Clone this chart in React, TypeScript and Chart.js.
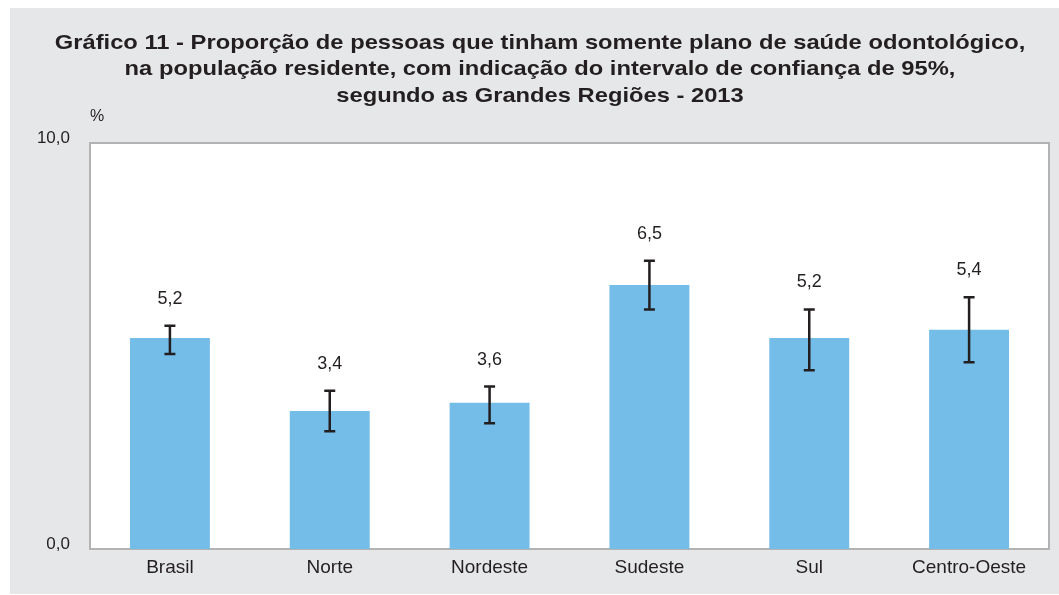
import React, { useEffect, useRef } from "react";
import { Chart, registerables } from "chart.js";

Chart.register(...registerables);

const titleLines = [
  "Gráfico 11 - Proporção de pessoas que tinham somente plano de saúde odontológico,",
  "na população residente, com indicação do intervalo de confiança de 95%,",
  "segundo as Grandes Regiões - 2013",
];
const unitLabel = "%";
const categories = ["Brasil", "Norte", "Nordeste", "Sudeste", "Sul", "Centro-Oeste"];
const values = [5.2, 3.4, 3.6, 6.5, 5.2, 5.4];
const ciLow = [4.8, 2.9, 3.1, 5.9, 4.4, 4.6];
const ciHigh = [5.5, 3.9, 4.0, 7.1, 5.9, 6.2];
const yTicks = [0, 10];

const FONT = "'Liberation Sans', Arial, Helvetica, sans-serif";
const TEXT = "#231f20";
const BG = "#e6e7e8";
const BORDER = "#b3b3b3";

const fmt = (v: number) => v.toFixed(1).replace(".", ",");

const decorPlugin = {
  id: "decor",
  beforeDraw(chart: any) {
    const { ctx, chartArea } = chart;
    ctx.save();
    ctx.fillStyle = "#ffffff";
    ctx.fillRect(0, 0, chart.width, chart.height);
    ctx.fillStyle = BG;
    ctx.fillRect(10, 8, chart.width - 10, chart.height - 9);
    ctx.fillStyle = "#ffffff";
    ctx.fillRect(chartArea.left, chartArea.top, chartArea.right - chartArea.left, chartArea.bottom - chartArea.top);
    // title
    ctx.fillStyle = TEXT;
    ctx.font = `bold 21px ${FONT}`;
    ctx.textAlign = "center";
    ctx.textBaseline = "middle";
    titleLines.forEach((l, i) => {
      ctx.save();
      ctx.translate(540, 43 + i * 26.5);
      ctx.scale(1.13, 1);
      ctx.fillText(l, 0, 0);
      ctx.restore();
    });
    ctx.font = `16px ${FONT}`;
    ctx.textAlign = "left";
    ctx.fillText(unitLabel, 90, 117);
    ctx.restore();
  },
  afterDatasetsDraw(chart: any) {
    const { ctx, chartArea } = chart;
    const x = chart.scales.x;
    const y = chart.scales.y;
    ctx.save();
    // top & right borders
    ctx.strokeStyle = BORDER;
    ctx.lineWidth = 2;
    ctx.beginPath();
    ctx.moveTo(chartArea.left, chartArea.top);
    ctx.lineTo(chartArea.right, chartArea.top);
    ctx.lineTo(chartArea.right, chartArea.bottom);
    ctx.stroke();
    // error bars
    ctx.strokeStyle = TEXT;
    ctx.lineWidth = 2.5;
    categories.forEach((_, i) => {
      const cx = x.getPixelForValue(i);
      const yl = y.getPixelForValue(ciLow[i]);
      const yh = y.getPixelForValue(ciHigh[i]);
      ctx.beginPath();
      ctx.moveTo(cx, yl);
      ctx.lineTo(cx, yh);
      ctx.moveTo(cx - 5.5, yl);
      ctx.lineTo(cx + 5.5, yl);
      ctx.moveTo(cx - 5.5, yh);
      ctx.lineTo(cx + 5.5, yh);
      ctx.stroke();
      ctx.fillStyle = TEXT;
      ctx.font = `18px ${FONT}`;
      ctx.textAlign = "center";
      ctx.textBaseline = "middle";
      ctx.fillText(fmt(values[i]), cx, yh - 27);
    });
    ctx.restore();
  },
};

export default function App() {
  const ref = useRef<HTMLCanvasElement>(null);
  useEffect(() => {
    if (!ref.current) return;
    const chart = new Chart(ref.current, {
      type: "bar",
      data: {
        labels: categories,
        datasets: [
          {
            data: values,
            backgroundColor: "#73bde8",
            borderWidth: 0,
            categoryPercentage: 1,
            barPercentage: 0.5,
          },
        ],
      },
      options: {
        animation: false,
        responsive: false,
        devicePixelRatio: 1,
        layout: { padding: { top: 143, right: 10, left: 0, bottom: 0 } },
        plugins: { legend: { display: false }, tooltip: { enabled: false }, title: { display: false } },
        scales: {
          x: {
            grid: { display: false, drawTicks: false },
            border: { display: true, color: BORDER, width: 2 },
            ticks: { color: TEXT, font: { family: FONT, size: 19 }, padding: 7 },
            afterFit: (s: any) => { s.height = 46; },
          },
          y: {
            min: 0,
            max: 10,
            afterBuildTicks: (s: any) => { s.ticks = yTicks.map((v) => ({ value: v })); },
            grid: { display: false, drawTicks: false },
            border: { display: true, color: BORDER, width: 2 },
            ticks: {
              color: TEXT,
              font: { family: FONT, size: 17 },
              padding: 20,
              labelOffset: -5,
              callback: (v: any) => fmt(Number(v)),
            },
            afterFit: (s: any) => { s.width = 90; },
          },
        },
      },
      plugins: [decorPlugin],
    });
    return () => chart.destroy();
  }, []);
  return (
    <div style={{ position: "fixed", left: 0, top: 0, width: 1059, height: 595 }}>
      <canvas ref={ref} width={1059} height={595} style={{ width: 1059, height: 595, display: "block" }} />
    </div>
  );
}
